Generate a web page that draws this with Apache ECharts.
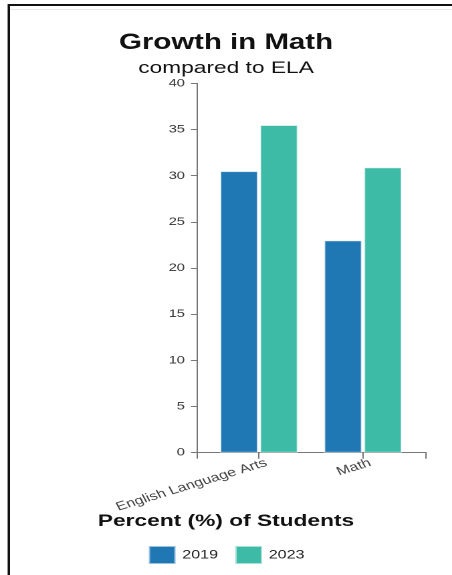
<!DOCTYPE html>
<html>
<head>
<meta charset="utf-8">
<script src="https://cdn.jsdelivr.net/npm/echarts@6/dist/echarts.min.js"></script>
<style>
  html, body { margin: 0; padding: 0; background: #fff; overflow: hidden; }
  #frame {
    position: absolute; left: 8px; top: 4px; width: 460px; height: 590px;
    border-left: 2px solid #111; border-top: 2px solid #111;
    box-shadow: -1px 0 0 #9a9a9a;
  }
  #frame-inner {
    position: absolute; left: 0; top: 3px; right: 0; height: 0;
    border-top: 1px solid #e8e8e8;
  }
  /* chart is laid out narrow and widened horizontally */
  #chart {
    position: absolute; left: 0; top: 0; width: 338px; height: 575px;
    transform: scaleX(1.3373); transform-origin: 0 0;
  }
</style>
</head>
<body>
<div id="frame"><div id="frame-inner"></div></div>
<div id="chart"></div>
<script>
const categories = ['English Language Arts', 'Math'];
const seriesNames = ['2019', '2023'];
const values2019 = [30.5, 23.0];
const values2023 = [35.5, 30.9];
const yTicks = [0, 5, 10, 15, 20, 25, 30, 35, 40];

const colors = ['#1f77b4', '#3dbba6'];
const font = '"Liberation Sans", Arial, sans-serif';
const yMin = yTicks[0], yMax = yTicks[yTicks.length - 1], yStep = yTicks[1] - yTicks[0];

const chart = echarts.init(document.getElementById('chart'), null, { renderer: 'canvas', devicePixelRatio: 2 });

const barStyle = (c) => ({ color: c, borderColor: 'rgba(255,255,255,0.55)', borderWidth: 1 });

chart.setOption({
  animation: false,
  textStyle: { fontFamily: font },
  title: [
    { text: 'Growth in Math', left: 'center', top: 27,
      textStyle: { fontFamily: font, fontSize: 22, fontWeight: 'bold', color: '#111' } },
    { text: 'compared to ELA', left: 'center', top: 55,
      textStyle: { fontFamily: font, fontSize: 17, fontWeight: 'normal', color: '#111' } },
    { text: 'Percent (%) of Students', left: 'center', top: 508,
      textStyle: { fontFamily: font, fontSize: 17, fontWeight: 'bold', color: '#111' } }
  ],
  legend: {
    data: seriesNames,
    left: 'center', top: 540,
    itemWidth: 20, itemHeight: 18, itemGap: 12,
    icon: 'rect',
    textStyle: { fontFamily: font, fontSize: 12, color: '#222' }
  },
  grid: [
    // bars
    { left: 154.8, right: 27.7, top: 83.4, bottom: 122.3 },
    // full-width frame for the axis lines
    { left: 147.3, right: 19.4, top: 83.4, bottom: 122.3 }
  ],
  xAxis: [
    { type: 'category', gridIndex: 0, data: categories,
      axisLine: { show: false },
      axisTick: { show: true, alignWithLabel: true, length: 6, lineStyle: { color: '#777' } },
      axisLabel: { rotate: 22, margin: 12, fontSize: 12, color: '#444', fontFamily: font,
        interval: 0, padding: [0, -6, 0, 0] } },
    { type: 'value', gridIndex: 1, min: 0, max: 1, interval: 1,
      axisLine: { show: true, lineStyle: { color: '#777', width: 1 } },
      axisTick: { show: true, length: 6, lineStyle: { color: '#777' } },
      axisLabel: { show: false }, splitLine: { show: false } }
  ],
  yAxis: [
    { type: 'value', gridIndex: 0, min: yMin, max: yMax, interval: yStep,
      show: false, splitLine: { show: false } },
    { type: 'value', gridIndex: 1, min: yMin, max: yMax, interval: yStep,
      axisLine: { show: true, lineStyle: { color: '#777', width: 1 } },
      axisTick: { show: true, length: 4.5, lineStyle: { color: '#777' } },
      axisLabel: { margin: 9, fontSize: 11, color: '#333', fontFamily: font },
      splitLine: { show: false } }
  ],
  series: [
    { name: seriesNames[0], type: 'bar', xAxisIndex: 0, yAxisIndex: 0,
      data: values2019, barWidth: 28.4, barGap: '5%', itemStyle: barStyle(colors[0]) },
    { name: seriesNames[1], type: 'bar', xAxisIndex: 0, yAxisIndex: 0,
      data: values2023, barWidth: 28.4, barGap: '5%', itemStyle: barStyle(colors[1]) }
  ]
});
</script>
</body>
</html>
